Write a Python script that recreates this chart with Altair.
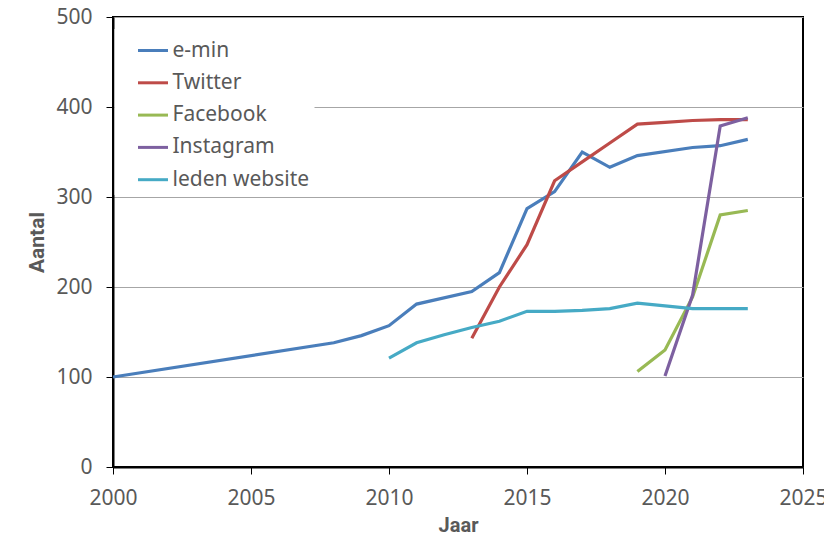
import altair as alt
import pandas as pd

series_names = ["e-min", "Twitter", "Facebook", "Instagram", "leden website"]
series_colors = ["#4A7EBB", "#BE4B48", "#98B954", "#7D60A0", "#46AAC5"]

emin_years = [2000, 2008, 2009, 2010, 2011, 2013, 2014, 2015, 2016, 2017, 2018, 2019, 2021, 2022, 2023]
emin_vals = [100, 138, 146, 157, 181, 195, 216, 287, 306, 350, 333, 346, 355, 357, 364]

twitter_years = [2013, 2014, 2015, 2016, 2017, 2018, 2019, 2020, 2021, 2022, 2023]
twitter_vals = [143, 200, 247, 318, 339, 360, 381, 383, 385, 386, 386]

facebook_years = [2019, 2020, 2021, 2022, 2023]
facebook_vals = [106, 130, 189, 280, 285]

instagram_years = [2020, 2021, 2022, 2023]
instagram_vals = [101, 191, 379, 388]

leden_years = [2010, 2011, 2012, 2013, 2014, 2015, 2016, 2017, 2018, 2019, 2020, 2021, 2022, 2023]
leden_vals = [121, 138, 147, 155, 162, 173, 173, 174, 176, 182, 179, 176, 176, 176]

x_ticks = [2000, 2005, 2010, 2015, 2020, 2025]
y_ticks = [0, 100, 200, 300, 400, 500]

rows = []
for name, yrs, vals in [
    ("e-min", emin_years, emin_vals),
    ("Twitter", twitter_years, twitter_vals),
    ("Facebook", facebook_years, facebook_vals),
    ("Instagram", instagram_years, instagram_vals),
    ("leden website", leden_years, leden_vals),
]:
    for yv, v in zip(yrs, vals):
        rows.append({"Jaar": yv, "Aantal": v, "Serie": name})
df = pd.DataFrame(rows)

LABEL_FONT = "Noto Sans"
TITLE_FONT = "Roboto"
TEXT_COLOR = "#595959"

chart = alt.Chart(df).mark_line(strokeWidth=3.2).encode(
    x=alt.X(
        "Jaar:Q",
        scale=alt.Scale(domain=[2000, 2025], nice=False, zero=False),
        axis=alt.Axis(
            values=x_ticks, format="d", grid=False, tickSize=7, tickColor="black",
            domainColor="black", domainWidth=2, labelFont=LABEL_FONT, labelFontSize=21,
            labelColor=TEXT_COLOR, labelPadding=13, labelFlush=False, labelOverlap=False,
            title="Jaar", titleFont=TITLE_FONT, titleFontSize=20, titleFontWeight="bold",
            titleColor=TEXT_COLOR, titleY=64, titleBaseline="alphabetic",
        ),
    ),
    y=alt.Y(
        "Aantal:Q",
        scale=alt.Scale(domain=[0, 500], nice=False),
        axis=alt.Axis(
            values=y_ticks, grid=True, gridColor="#A6A6A6", gridWidth=1.2, tickSize=7,
            tickColor="black", domainColor="black", domainWidth=2, labelFont=LABEL_FONT,
            labelFontSize=21, labelColor=TEXT_COLOR, labelPadding=14, labelFlush=False,
            labelOverlap=False, title="Aantal", titleFont=TITLE_FONT, titleFontSize=21,
            titleFontWeight="bold", titleColor=TEXT_COLOR, titleX=-70,
            titleBaseline="alphabetic",
        ),
    ),
    color=alt.Color(
        "Serie:N",
        scale=alt.Scale(domain=series_names, range=series_colors),
        legend=alt.Legend(
            title=None, orient="none", legendX=1.5, legendY=12, padding=5,
            fillColor="white", symbolType="stroke", symbolStrokeWidth=3,
            symbolSize=900, symbolOffset=17, labelFont=LABEL_FONT, labelFontSize=21,
            labelColor=TEXT_COLOR, labelOffset=3, rowPadding=5.3,
        ),
    ),
    order=alt.Order("Jaar:Q"),
).properties(
    width=690,
    height=450,
    background="white",
    autosize=alt.AutoSizeParams(type="none"),
    padding={"left": 105, "top": 9, "right": 21, "bottom": 66},
).configure_view(
    stroke="black", strokeWidth=2
)

chart.save("out.html", embed_options={"renderer": "svg", "actions": False})
